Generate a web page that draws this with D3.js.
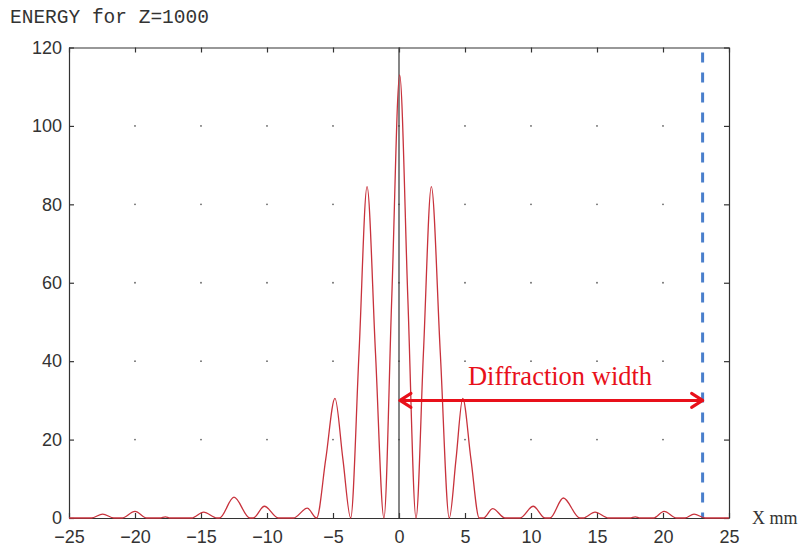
<!DOCTYPE html>
<html>
<head>
<meta charset="utf-8">
<script src="https://d3js.org/d3.v7.min.js"></script>
<style>
  body { margin: 0; background: #fff; }
  svg { display: block; }
</style>
</head>
<body>
<svg id="chart"></svg>
<script>
// x position (mm) and energy
var xPos = [-25, -23.3, -22.45, -21.6, -21.0, -20.0, -19.1, -18.1, -17.7, -17.35,
    -15.7, -14.8, -13.8, -13.6, -12.5, -11.3, -11.04, -10.2, -9.14, -8.0, -6.95, -6.24,
    -5.55, -4.85, -4.25, -3.66, -3.03, -2.42, -1.78, -1.14, -0.55, 0.05, 0.67, 1.29,
    1.85, 2.45, 3.13, 3.81, 4.32, 4.83, 5.45, 6.08, 6.39, 7.1, 8.03, 9.17, 10.17, 11.06,
    11.44, 12.45, 13.7, 13.96, 14.85, 15.86, 17.5, 17.9, 18.26, 19.27, 20.08, 21.04,
    21.67, 22.35, 23.2, 25];
var energy = [0, 0, 1.0, 0, 0, 1.7, 0, 0, 0.3, 0,
    0, 1.5, 0, 0, 5.3, 0, 0, 3.0, 0, 0, 2.5, 0,
    15, 30.5, 15, 0, 42, 84.5, 42, 0, 56, 113, 56, 0,
    42, 84.5, 42, 0, 15, 30.5, 15, 0, 0, 2.4, 0, 0, 3.0, 0,
    0, 5.1, 0, 0, 1.5, 0, 0, 0.3, 0, 0, 1.7, 0,
    0, 1.0, 0, 0];

var xTicks = [-25, -20, -15, -10, -5, 0, 5, 10, 15, 20, 25];
var yTicks = [0, 20, 40, 60, 80, 100, 120];

var title = "ENERGY for Z=1000";
var xLabel = "X mm";
var noteText = "Diffraction width";
var edgeX = 23;      // blue dashed limit
var arrowLevel = 30; // height of the width arrow

var width = 803, height = 548;
var svg = d3.select("#chart")
    .attr("width", width)
    .attr("height", height);

var xScale = d3.scaleLinear().domain([-25, 25]).range([69, 729]);
var yScale = d3.scaleLinear().domain([0, 120]).range([518, 47.5]);

var tickFont = "'Liberation Sans', Arial, sans-serif";

// grid dots
var gridX = xTicks.filter(function (d) { return d > -25 && d < 25; });
var gridY = yTicks.filter(function (d) { return d > 0 && d < 120; });
var dots = [];
gridX.forEach(function (a) { gridY.forEach(function (b) { dots.push([a, b]); }); });
svg.append("g").selectAll("circle")
    .data(dots)
    .enter()
    .append("circle")
    .attr("cx", function (d) { return xScale(d[0]); })
    .attr("cy", function (d) { return yScale(d[1]); })
    .attr("r", 0.9)
    .attr("fill", "#666");

// axes with inward ticks
svg.append("g")
    .attr("transform", `translate(0,${yScale(0)})`)
    .call(d3.axisBottom(xScale).tickValues(xTicks).tickSizeInner(-5).tickSizeOuter(0).tickPadding(12));
svg.append("g")
    .attr("transform", `translate(${xScale(-25)},0)`)
    .call(d3.axisLeft(yScale).tickValues(yTicks).tickSizeInner(-5).tickSizeOuter(0).tickPadding(7));
svg.append("g")
    .attr("transform", `translate(0,${yScale(120)})`)
    .call(d3.axisTop(xScale).tickValues(xTicks).tickSizeInner(-5).tickSizeOuter(0).tickFormat(""));
svg.append("g")
    .attr("transform", `translate(${xScale(25)},0)`)
    .call(d3.axisRight(yScale).tickValues(yTicks).tickSizeInner(-5).tickSizeOuter(0).tickFormat(""));

svg.selectAll(".domain").attr("stroke", "#333").attr("stroke-width", 1.2);
svg.selectAll(".tick line").attr("stroke", "#333").attr("stroke-width", 1.2);
svg.selectAll(".tick text")
    .attr("fill", "#333")
    .style("font-family", tickFont)
    .style("font-size", "18px");

// centre line at x = 0
svg.append("line")
    .attr("x1", xScale(0)).attr("x2", xScale(0))
    .attr("y1", yScale(120)).attr("y2", yScale(0))
    .attr("stroke", "#444")
    .attr("stroke-width", 1.3);

// blue dashed edge
svg.append("line")
    .attr("x1", xScale(edgeX)).attr("x2", xScale(edgeX))
    .attr("y1", yScale(120) + 5).attr("y2", yScale(0))
    .attr("stroke", "#4a7fcc")
    .attr("stroke-width", 3)
    .attr("stroke-dasharray", "10,10");

// energy curve
var points = xPos.map(function (x, i) { return [x, energy[i]]; });
var line = d3.line()
    .x(function (d) { return xScale(d[0]); })
    .y(function (d) { return yScale(d[1]); })
    .curve(d3.curveMonotoneX);
svg.append("path")
    .datum(points)
    .attr("fill", "none")
    .attr("stroke", "#c8323c")
    .attr("stroke-width", 1.3)
    .attr("d", line);

// arrow
var ay = yScale(arrowLevel);
var ax0 = xScale(0) + 1, ax1 = xScale(edgeX);
var arrow = svg.append("g")
    .attr("stroke", "#e8101a")
    .attr("stroke-width", 3)
    .attr("fill", "none")
    .attr("stroke-linecap", "round")
    .attr("stroke-linejoin", "round");
arrow.append("line").attr("x1", ax0).attr("x2", ax1).attr("y1", ay).attr("y2", ay);
arrow.append("path").attr("d", `M${ax0 + 11},${ay - 7}L${ax0},${ay}L${ax0 + 11},${ay + 7}`);
arrow.append("path").attr("d", `M${ax1 - 11},${ay - 7}L${ax1},${ay}L${ax1 - 11},${ay + 7}`);

svg.append("text")
    .attr("x", 560)
    .attr("y", 385)
    .attr("text-anchor", "middle")
    .attr("fill", "#e8101a")
    .style("font-family", "'Liberation Serif', 'Times New Roman', serif")
    .style("font-size", "26.5px")
    .text(noteText);

// title and x label
svg.append("text")
    .attr("x", 10)
    .attr("y", 23)
    .attr("fill", "#333")
    .style("font-family", "'Liberation Mono', monospace")
    .style("font-size", "19.5px")
    .text(title);

svg.append("text")
    .attr("x", 752)
    .attr("y", 524)
    .attr("fill", "#333")
    .style("font-family", "'Liberation Serif', serif")
    .style("font-size", "18px")
    .text(xLabel);
</script>
</body>
</html>
